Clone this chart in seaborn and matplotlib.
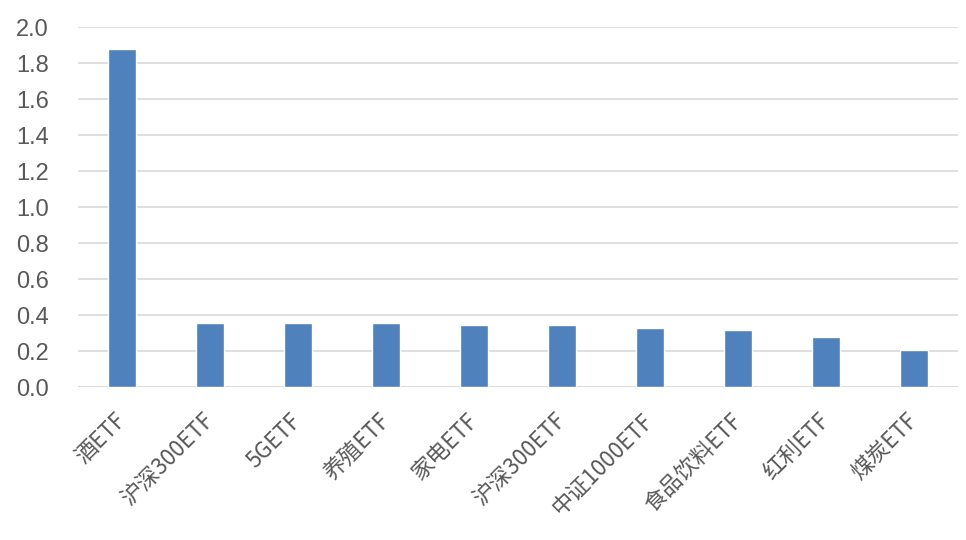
import matplotlib
matplotlib.use("Agg")
import matplotlib.pyplot as plt
import matplotlib.transforms as mtransforms
import seaborn as sns
import pandas as pd

# data
labels = ["酒ETF", "沪深300ETF", "5GETF", "养殖ETF", "家电ETF",
          "沪深300ETF", "中证1000ETF", "食品饮料ETF", "红利ETF", "煤炭ETF"]
values = [1.88, 0.355, 0.355, 0.355, 0.343, 0.343, 0.329, 0.318, 0.280, 0.205]
y_ticks = [0.0, 0.2, 0.4, 0.6, 0.8, 1.0, 1.2, 1.4, 1.6, 1.8, 2.0]

sns.set_theme(style="white")
plt.rcParams["font.family"] = ["Noto Sans CJK SC", "DejaVu Sans"]

df = pd.DataFrame({"pos": range(len(labels)), "value": values})

fig = plt.figure(figsize=(9.66, 5.4), dpi=100)
ax = fig.add_axes([78 / 966, 1 - 387 / 540, 880 / 966, 360 / 540])

sns.barplot(data=df, x="pos", y="value", color="#4F81BD", saturation=1,
            width=0.32, ax=ax, zorder=3)

ax.set_ylim(0, 2.0)
ax.set_yticks(y_ticks)
ax.set_yticklabels([f"{t:.1f}" for t in y_ticks], fontsize=17, color="#595959",
                   family=["Liberation Sans", "DejaVu Sans"])
ax.set_xlim(-0.5, len(labels) - 0.5)
ax.set_xticks(range(len(labels)))
ax.set_xticklabels(labels, rotation=45, ha="right", va="top",
                   rotation_mode="anchor", fontsize=16, color="#595959")
ax.tick_params(axis="y", length=0, pad=21)
ax.tick_params(axis="x", length=0, pad=16)
ax.yaxis.grid(True, color="#D9D9D9", linewidth=1.2, zorder=0)
ax.set_axisbelow(True)
for side in ["top", "right", "left", "bottom"]:
    ax.spines[side].set_visible(False)
ax.axhline(0, color="#D9D9D9", linewidth=1.2, zorder=1)
ax.set_xlabel("")
ax.set_ylabel("")

# nudge rotated labels a little left so their upper end sits under the bar
fig.canvas.draw()
shift = mtransforms.ScaledTranslation(-8 / 100, 0, fig.dpi_scale_trans)
for tick in ax.xaxis.get_major_ticks():
    tick.label1.set_transform(tick.label1.get_transform() + shift)

fig.savefig("out.png", dpi=100)
